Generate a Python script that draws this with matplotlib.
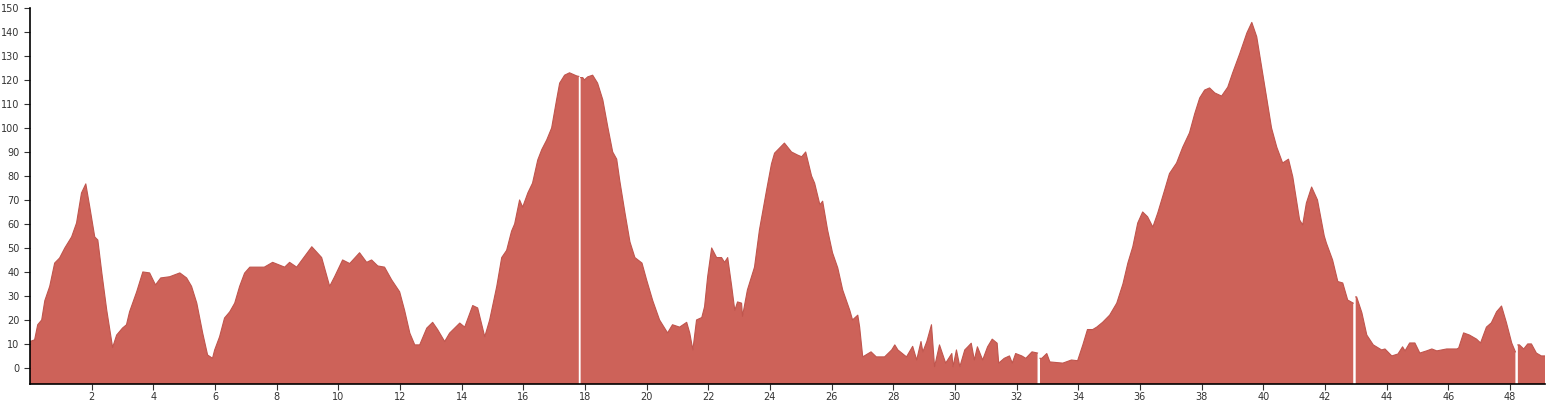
import numpy as np
import matplotlib
matplotlib.use('Agg')
import matplotlib.pyplot as plt

## profile points (nan = white gap)
dist = [0.0, 0.15, 0.25, 0.38, 0.48, 0.64, 0.8, 0.96, 1.13, 1.35, 1.51, 1.67, 1.81, 1.94, 2.1, 2.2,
        2.33, 2.49, 2.68, 2.81, 3.0, 3.13, 3.23, 3.46, 3.66, 3.88, 4.07, 4.24, 4.53, 4.86, 5.08,
        5.24, 5.41, 5.6, 5.76, 5.92, 5.99, 6.15, 6.31, 6.48, 6.64, 6.8, 6.96, 7.13, 7.6, 7.87,
        8.26, 8.42, 8.65, 9.14, 9.46, 9.72, 9.88, 10.14, 10.37, 10.69, 10.92, 11.08, 11.28, 11.5,
        11.73, 11.99, 12.15, 12.32, 12.48, 12.64, 12.87, 13.06, 13.22, 13.45, 13.61, 13.94, 14.1,
        14.36, 14.52, 14.75, 14.91, 15.14, 15.3, 15.46, 15.62, 15.72, 15.88, 15.98, 16.15, 16.3,
        16.47, 16.6, 16.76, 16.92, 17.08, 17.18, 17.34, 17.5, 17.73, 17.8, 17.83, 17.86, 17.93,
        17.98, 18.09, 18.25, 18.41, 18.58, 18.74, 18.9, 19.03, 19.13, 19.3, 19.46, 19.62, 19.85,
        20.0, 20.2, 20.42, 20.68, 20.84, 21.07, 21.3, 21.4, 21.5, 21.62, 21.79, 21.88, 21.98,
        22.11, 22.27, 22.43, 22.53, 22.63, 22.76, 22.86, 22.95, 23.08, 23.11, 23.27, 23.5, 23.66,
        23.89, 24.05, 24.15, 24.47, 24.7, 24.9, 25.03, 25.16, 25.35, 25.45, 25.62, 25.71, 25.87,
        26.03, 26.2, 26.36, 26.59, 26.68, 26.85, 26.91, 27.01, 27.28, 27.45, 27.72, 27.95, 28.05,
        28.15, 28.43, 28.63, 28.76, 28.9, 28.96, 29.09, 29.24, 29.34, 29.5, 29.7, 29.9, 29.94,
        30.05, 30.16, 30.32, 30.42, 30.53, 30.63, 30.73, 30.9, 31.06, 31.21, 31.37, 31.42, 31.6,
        31.77, 31.86, 31.97, 32.17, 32.3, 32.5, 32.68, 32.72, 32.76, 32.82, 32.98, 33.08, 33.5,
        33.78, 33.98, 34.15, 34.3, 34.47, 34.6, 34.79, 35.02, 35.25, 35.45, 35.61, 35.77, 35.93,
        36.09, 36.25, 36.42, 36.58, 36.8, 36.96, 37.19, 37.39, 37.61, 37.78, 37.94, 38.1, 38.26,
        38.43, 38.65, 38.85, 39.01, 39.24, 39.47, 39.63, 39.79, 39.95, 40.11, 40.27, 40.44, 40.63,
        40.82, 40.96, 41.18, 41.28, 41.4, 41.57, 41.76, 41.98, 42.05, 42.25, 42.42, 42.58, 42.74,
        42.92, 42.96, 43.0, 43.03, 43.2, 43.36, 43.57, 43.84, 43.95, 44.17, 44.37, 44.52, 44.6,
        44.75, 44.92, 45.08, 45.3, 45.47, 45.63, 45.95, 46.28, 46.34, 46.5, 46.69, 46.92, 47.05,
        47.24, 47.4, 47.57, 47.73, 47.89, 48.06, 48.18, 48.22, 48.26, 48.31, 48.45, 48.58, 48.7,
        48.86, 49.02, 49.14]
elev = [11, 11.7, 18, 20, 28, 34, 43.7, 45.8, 50, 54.6, 60.4, 72.9, 76.7, 67, 54.6, 53.3,
        39.6, 24, 8.5, 13.7, 16.6, 18, 23.4, 31.7, 40, 39.6, 34.6, 37.5, 38, 39.6, 37.5,
        34, 27, 14.6, 5.4, 4, 7.5, 13, 20.8, 23.4, 27, 34, 39.5, 42, 42, 44,
        42, 44, 42, 50.5, 46, 34, 38, 45, 43.5, 48, 44, 45, 42.5, 42,
        36.7, 31.7, 24, 14.5, 9.6, 9.6, 16.6, 19, 16, 11, 14.5, 18.7, 17,
        26, 25, 13, 20, 34, 46, 49, 57, 60, 70, 67, 73, 77,
        86.7, 91, 95, 100, 111.7, 118.7, 122, 123, 121.7, 121.5, np.nan, 121, 121,
        120, 121.3, 122, 118.7, 111.7, 100.5, 90, 87, 78, 64.5, 52.5, 46, 43.7,
        36.7, 28, 20, 14.6, 18, 17, 19, 14.5, 7.5, 20, 21, 25.5, 38,
        50, 46, 46, 44, 46, 34, 24, 27.5, 27, 21.5, 32.5, 42, 57.5,
        74, 85, 89.5, 93.7, 90, 88.7, 88, 90, 80, 77, 68, 69.5, 57.5,
        48, 41.7, 32.5, 24, 20, 22, 17, 4.6, 6.7, 4.6, 4.6, 7.5, 9.6,
        7.5, 4.6, 9, 3.3, 11, 6.7, 11, 18, 0.5, 9.6, 2, 6, 0.5,
        7.5, 0.5, 7.5, 8.8, 10.3, 3.3, 8.8, 3.3, 8.8, 12, 10.3, 2, 4,
        5, 2, 6, 5, 4, 6.7, 6.2, np.nan, 4, 4, 6, 2.5, 2,
        3.3, 3, 9.6, 16, 16, 17, 19, 22, 27, 35, 43.7, 50.5, 60.4,
        65, 63, 58.7, 64.6, 74, 81, 85.4, 92, 98, 106, 112.5, 115.8, 116.7,
        114.6, 113.3, 117, 123, 131, 139.6, 144, 138, 125.4, 113, 100, 92, 85.4,
        87, 79.6, 61.7, 59.6, 68.7, 75.4, 70, 55, 52, 45, 36, 35.4, 28.3,
        27, np.nan, 29.6, 29.6, 23, 13.7, 9.6, 7.5, 7.9, 5, 5.8, 8.8, 7.1,
        10.4, 10.4, 6.2, 7.1, 7.9, 7.1, 7.9, 7.9, 8.3, 14.6, 13.7, 12, 10.4,
        17, 18.8, 23.4, 25.8, 18.8, 10.4, 6.7, np.nan, 9.6, 9.6, 7.9, 10, 10,
        6.2, 5, 5]

x_ticks = np.arange(2, 49, 2)
y_ticks = np.arange(0, 151, 10)

x = np.array(dist)
y = np.array(elev)
ymin = -6.7

fig = plt.figure(figsize=(15.47, 4.15), dpi=100)
ax = fig.add_axes([30 / 1547, 31 / 415, 1515 / 1547, 376 / 415])
ax.fill_between(x, ymin, y, color='#cd6259', linewidth=0)
ax.plot(x, y, color='#c0554d', linewidth=0.8)

ax.set_xlim(0, 49.14)
ax.set_ylim(ymin, 150)
ax.set_xticks(x_ticks)
ax.set_yticks(y_ticks)
ax.tick_params(labelsize=7, colors='#333333', length=4, width=0.8)
ax.tick_params(axis='x', pad=2)
for s in ['top', 'right']:
    ax.spines[s].set_visible(False)
for s in ['left', 'bottom']:
    ax.spines[s].set_color('black')
    ax.spines[s].set_linewidth(1.2)

fig.savefig('out.png', dpi=100)
